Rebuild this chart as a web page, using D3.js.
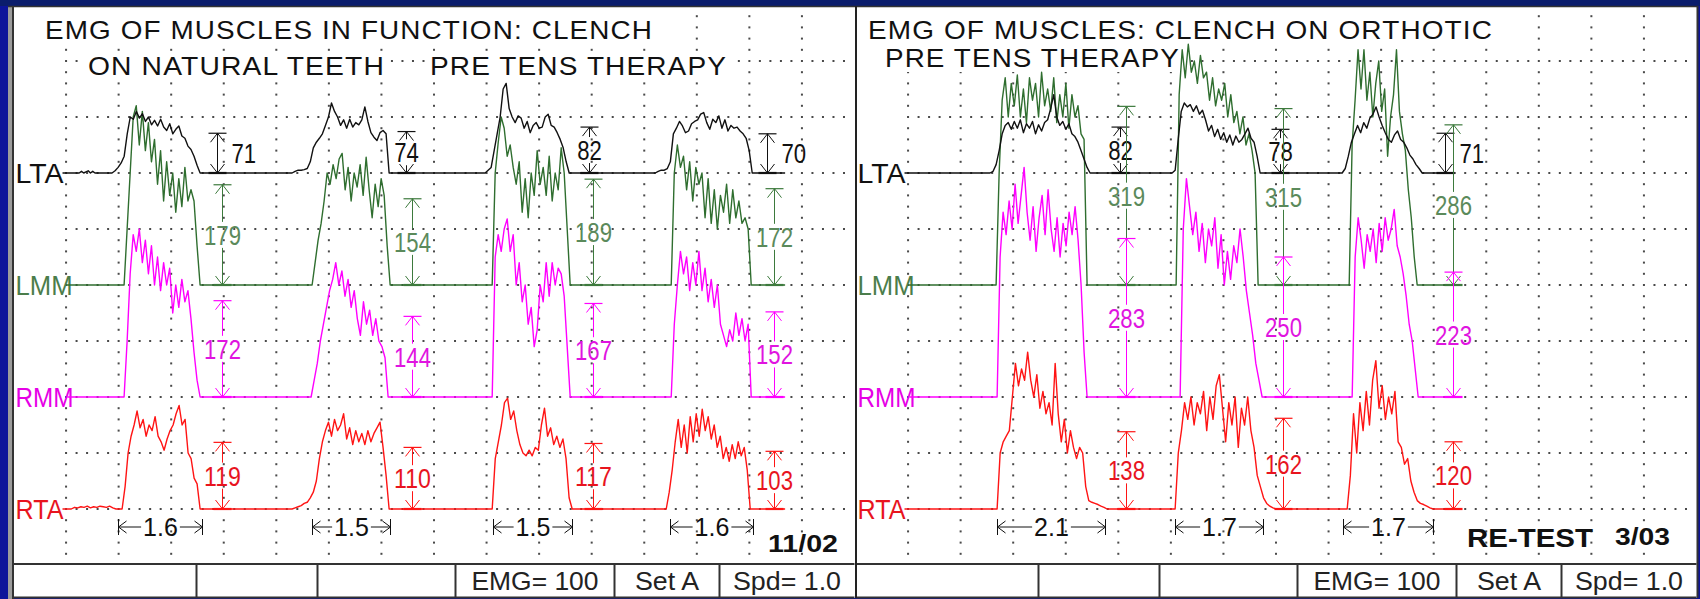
<!DOCTYPE html>
<html><head><meta charset="utf-8">
<script src="https://cdn.jsdelivr.net/npm/d3@7"></script>
<style>html,body{margin:0;padding:0;background:#0d149a;overflow:hidden}svg{display:block}</style>
</head><body>
<svg id="chart" width="1700" height="599"></svg>
<script>
// ================= DATA =================
const laneNames = ["LTA", "LMM", "RMM", "RTA"];
const leftTitle = ["EMG OF MUSCLES IN FUNCTION: CLENCH", "ON NATURAL TEETH", "PRE TENS THERAPY"];
const rightTitle = ["EMG OF MUSCLES: CLENCH ON ORTHOTIC", "PRE TENS THERAPY"];
const footerLabels = ["EMG= 100", "Set A", "Spd= 1.0"];
const leftDate = "11/02";
const rightNote = ["RE-TEST", "3/03"];

// bursts: [start (s), end (s), amplitude samples in µV, evenly spaced in time]
const leftLTA = [
  [0.25, 0.55, [0,3,0,2,4,0,3,0]],
  [0.875, 2.55, [0,4,10,18,30,70,100,96,110,98,106,92,100,86,94,84,96,82,76,88,70,78,84,66,62,48,42,30,14,0]],
  [4.30, 6.146, [0,3,5,5,6,8,20,45,55,62,70,85,100,125,110,100,85,95,80,96,82,90,86,95,118,92,72,64,58,72,76,70,0]],
  [7.973, 9.572, [0,5,10,40,70,100,150,160,115,100,90,102,98,80,92,72,85,90,80,82,100,105,85,82,72,60,45,20,0]],
  [11.208, 13.054, [0,3,5,5,8,20,70,80,92,84,72,75,88,92,95,105,108,90,78,96,90,102,80,95,75,85,80,82,75,70,62,40,0]]
];
const leftLMM = [
  [1.104, 2.55, [0,100,200,300,320,250,310,240,290,220,260,180,240,150,220,160,200,130,190,140,210,150,170,150,70,0]],
  [4.681, 6.166, [0,40,80,110,150,200,180,215,190,225,235,170,210,150,200,175,215,160,228,170,120,180,140,190,160,70,0]],
  [8.107, 9.591, [0,200,254,300,280,230,250,210,180,220,130,190,120,200,160,240,180,210,160,230,150,200,170,245,200,100,0]],
  [11.513, 13.035, [0,200,250,210,230,170,220,150,210,180,200,120,190,110,170,100,160,130,180,110,170,120,150,110,120,100,0]]
];
const leftRMM = [
  [1.104, 2.55, [0,100,220,290,260,300,240,280,220,270,200,250,190,240,200,230,150,200,160,210,170,190,140,80,30,0]],
  [4.662, 6.127, [0,30,60,100,130,160,190,210,240,200,225,180,210,160,190,140,110,170,130,155,110,140,100,90,70,0]],
  [8.107, 9.591, [0,250,290,260,300,318,260,290,200,240,170,200,130,160,90,120,200,170,240,180,240,200,230,220,180,90,0]],
  [11.513, 13.035, [0,130,200,260,220,250,190,240,200,260,190,230,170,210,160,200,130,110,90,120,100,150,110,140,100,130,0]]
];
const leftRTA = [
  [0.1, 0.95, [0,3,2,4,3,5,2,4,3,5,4,3,5,2,0]],
  [1.066, 2.55, [0,40,100,130,150,175,145,160,130,150,140,165,130,120,105,125,140,150,170,185,150,160,100,90,55,45,0]],
  [4.30, 6.146, [0,2,4,6,10,12,20,30,50,90,120,140,155,130,160,140,150,170,125,145,115,140,120,135,115,140,120,135,145,155,110,60,0]],
  [8.107, 9.629, [0,90,120,150,190,198,160,175,140,115,100,95,105,95,110,105,150,180,130,145,115,130,110,125,90,20,0]],
  [11.418, 13.016, [0,30,70,120,160,110,150,100,165,120,170,130,178,140,165,125,150,110,130,90,110,85,115,90,120,95,110,70,0]]
];
const rightLTA = [
  [1.560, 3.463, [0,3,15,40,70,85,90,78,92,80,95,72,88,80,92,70,86,75,90,95,115,140,100,85,92,78,88,70,65,55,40,25,10,0]],
  [5.024, 6.698, [0,5,60,110,125,118,122,110,120,105,112,95,75,85,65,78,60,72,55,68,50,66,55,60,70,80,62,55,30,0]],
  [8.259, 9.781, [0,8,30,55,70,85,72,90,80,98,105,118,100,85,72,60,55,68,75,60,55,45,32,25,15,8,0]]
];
const rightLMM = [
  [1.675, 3.406, [0,200,330,370,300,360,320,375,300,350,290,370,330,360,300,380,320,350,310,370,290,340,300,360,280,340,300,320,270,260,0]],
  [5.10, 6.660, [0,340,420,370,430,380,400,360,410,370,380,330,370,320,350,330,360,300,340,290,310,270,300,250,270,240,200,0]],
  [8.392, 9.686, [0,250,330,420,350,420,330,380,300,360,400,310,350,230,300,340,420,310,270,240,170,120,50,0]]
];
const rightRMM = [
  [1.694, 3.406, [0,250,330,290,350,300,380,310,360,410,330,280,340,260,320,360,290,370,300,260,320,250,310,270,330,290,340,280,200,80,0]],
  [5.176, 6.736, [0,300,390,340,290,330,260,310,240,300,270,320,230,290,200,260,210,270,240,300,250,190,150,110,60,30,0]],
  [8.449, 9.705, [0,250,320,280,230,290,260,300,240,310,260,320,280,300,335,270,250,220,180,130,100,50,0]]
];
const rightRTA = [
  [1.694, 3.787, [0,100,120,130,140,200,260,220,250,230,280,230,200,240,180,210,170,190,150,260,170,120,160,100,140,110,90,110,100,40,15,12,10,8,5,3,0]],
  [5.081, 7.003, [0,100,140,190,160,200,150,190,170,210,140,200,160,220,240,180,120,190,150,200,110,180,150,200,140,110,60,40,20,10,5,2,0]],
  [8.354, 9.990, [0,60,170,100,190,140,210,150,230,265,180,220,160,200,170,210,120,110,80,90,50,30,15,10,8,5,2,0]]
];

// measurements: [time (s), amplitude µV]
const leftMeasLTA = [[2.87, 71], [6.47, 74], [9.95, 82], [13.34, 70]];
const leftMeasLMM = [[2.97, 179], [6.58, 154], [10.03, 189], [13.47, 172]];
const leftMeasRMM = [[2.97, 172], [6.58, 144], [10.03, 167], [13.47, 152]];
const leftMeasRTA = [[2.97, 119], [6.58, 110], [10.03, 117], [13.47, 103]];
const rightMeasLTA = [[4.03, 82], [7.08, 78], [10.22, 71]];
const rightMeasLMM = [[4.15, 319], [7.14, 315], [10.37, 286]];
const rightMeasRMM = [[4.15, 283], [7.14, 250], [10.37, 223]];
const rightMeasRTA = [[4.15, 138], [7.14, 162], [10.37, 120]];

// durations: [start s, end s, label]
const leftDurations = [[0.99, 2.59, "1.6"], [4.68, 6.17, "1.5"], [8.13, 9.63, "1.5"], [11.49, 13.07, "1.6"]];
const rightDurations = [[1.69, 3.75, "2.1"], [5.08, 6.76, "1.7"], [8.28, 9.99, "1.7"]];
const leftTraceEnd = [13.68, 13.68, 13.68, 13.68];
const rightTraceEnd = [10.37, 10.54, 10.54, 10.54];

// ================= LAYOUT / STYLE =================
const W = 1700, H = 599;
const FONT = "'Liberation Sans', Arial, Helvetica, sans-serif";
const panelW = 841, colW = panelW / 16, rowH = 56, row0 = 61;
const laneRow = [2, 4, 6, 8];
const laneColor = ["#111111", "#2f6e2f", "#ff00ff", "#ff1414"];
const labelColor = ["#111111", "#4b7d4b", "#e600e6", "#e8141e"];
const measColor = ["#111111", "#5b8a5b", "#e014e0", "#e8141e"];
const laneLabelW = [48, 57, 58, 48];
const footerCells = [[442, 601], [601, 706], [706, 841]];
const footerDividers = [183, 304, 442, 601, 706];
const footerTextW = [127, 64, 108];

const svg = d3.select("#chart");

// background
svg.append("rect").attr("width", W).attr("height", H).attr("fill", "#0d149a");
svg.append("rect").attr("width", W).attr("height", 6).attr("fill", "#0b1d6c");
svg.append("rect").attr("x", 13).attr("y", 6).attr("width", 1684).attr("height", 592).attr("fill", "#ffffff");
svg.append("rect").attr("x", 8).attr("y", 6).attr("width", 4).attr("height", 593).attr("fill", "#9c9c9c");

const panels = [
  { x0: 13.5, bursts: [leftLTA, leftLMM, leftRMM, leftRTA],
    meas: [leftMeasLTA, leftMeasLMM, leftMeasRMM, leftMeasRTA],
    sideLTA: [true, false, false, true],
    dur: leftDurations, ends: leftTraceEnd,
    title: leftTitle, titleLayout: [[45, 39, 608], [88, 75, 297], [430, 75, 297]] },
  { x0: 855.5, bursts: [rightLTA, rightLMM, rightRMM, rightRTA],
    meas: [rightMeasLTA, rightMeasLMM, rightMeasRMM, rightMeasRTA],
    sideLTA: [false, false, true],
    dur: rightDurations, ends: rightTraceEnd,
    title: rightTitle, titleLayout: [[868, 39, 625], [885, 67, 295]] }
];

panels.forEach((p, pi) => {
  const g = svg.append("g");
  const xs = d3.scaleLinear().domain([-1, 15]).range([p.x0, p.x0 + panelW]);
  const xMax = p.x0 + panelW - 5;

  // grid dots
  const dots = [];
  for (let j = 0; j <= 8; j++) {
    const y = row0 + j * rowH;
    for (let n = 0; ; n++) {
      const x = xs(0) + n * colW / 5;
      if (x > xMax) break;
      dots.push([x, y]);
    }
  }
  for (let k = 0; k <= 14; k++) {
    const x = xs(k);
    if (x > xMax) break;
    for (let m = -4; m <= 44; m++) {
      const y = row0 + m * rowH / 5;
      if (m % 5 === 0 && m >= 0 && m <= 40) continue;
      dots.push([x, y]);
    }
  }
  g.append("g").selectAll("rect").data(dots).join("rect")
    .attr("x", d => d[0] - 1).attr("y", d => d[1] - 1)
    .attr("width", 2).attr("height", 2).attr("fill", "#4a4a4a");

  // titles with white knock-out
  const tg = g.append("g");
  p.title.forEach((t, i) => {
    const [x, y, w] = p.titleLayout[i];
    const txt = tg.append("text").attr("x", x).attr("y", y)
      .attr("font-family", FONT).attr("font-size", 25).attr("fill", "#111")
      .attr("letter-spacing", 1)
      .attr("textLength", w).attr("lengthAdjust", "spacingAndGlyphs").text(t);
    const bb = txt.node().getBBox();
    tg.insert("rect", "text").attr("x", bb.x - 3).attr("y", bb.y - 1)
      .attr("width", bb.width + 6).attr("height", bb.height + 1).attr("fill", "#fff");
  });

  // lane labels
  const labelRight = [];
  laneNames.forEach((name, li) => {
    const base = row0 + laneRow[li] * rowH;
    g.append("text").attr("x", p.x0 + 2).attr("y", base + 10)
      .attr("font-family", FONT).attr("font-size", 28).attr("fill", labelColor[li])
      .attr("textLength", laneLabelW[li]).attr("lengthAdjust", "spacingAndGlyphs").text(name);
    labelRight.push(p.x0 + 2 + laneLabelW[li] - (li === 1 || li === 2 ? 6 : 1));
  });

  // traces (draw RTA first, LTA last)
  [3, 2, 1, 0].forEach(li => {
    const base = row0 + laneRow[li] * rowH;
    const ys = d3.scaleLinear().domain([0, 100]).range([base, base - rowH]);
    const pts = [[xs.invert(labelRight[li]), 0]];
    p.bursts[li].forEach(([t0, t1, vals]) => {
      const step = (t1 - t0) / (vals.length - 1);
      vals.forEach((v, i) => pts.push([t0 + i * step, v]));
    });
    pts.push([p.ends[li], 0]);
    g.append("path").attr("d", d3.line().x(d => xs(d[0])).y(d => ys(d[1]))(pts))
      .attr("fill", "none").attr("stroke", laneColor[li]).attr("stroke-width", 1.4)
      .attr("stroke-linejoin", "round");
  });

  // measurement brackets
  const mg = g.append("g");
  laneNames.forEach((name, li) => {
    const base = row0 + laneRow[li] * rowH;
    const ys = d3.scaleLinear().domain([0, 100]).range([base, base - rowH]);
    p.meas[li].forEach(([t, v], mi) => {
      const x = Math.round(xs(t)) + 0.5, yT = ys(v), yB = base;
      const col = li === 1 ? "#3d7a3d" : laneColor[li];
      const side = li === 0 && p.sideLTA[mi];
      const mid = (yT + yB) / 2;
      const line = (x1, y1, x2, y2, w) => mg.append("line").attr("x1", x1).attr("y1", y1)
        .attr("x2", x2).attr("y2", y2).attr("stroke", col).attr("stroke-width", w || 1);
      if (side) line(x, yT, x, yB);
      else { line(x, yT, x, mid - 13); line(x, mid + 13, x, yB); }
      line(x - 9, yT, x + 9, yT, 1.2);
      mg.append("path").attr("d", `M${x - 7},${yT + 9}L${x},${yT}L${x + 7},${yT + 9}`)
        .attr("fill", "none").attr("stroke", col);
      mg.append("path").attr("d", `M${x - 7},${yB - 9}L${x},${yB}L${x + 7},${yB - 9}`)
        .attr("fill", "none").attr("stroke", col);
      line(x - 9, yB, x + 9, yB, 2.2);
      const s = String(v);
      mg.append("text").attr("x", side ? x + 14 : x).attr("y", mid + 10)
        .attr("text-anchor", side ? "start" : "middle")
        .attr("font-family", FONT).attr("font-size", 28).attr("fill", measColor[li])
        .attr("textLength", s.length * 12.3).attr("lengthAdjust", "spacingAndGlyphs").text(s);
    });
  });

  // durations
  const dg = g.append("g").attr("stroke", "#111").attr("fill", "none");
  const yD = 527;
  p.dur.forEach(([t0, t1, lab]) => {
    const xa = Math.round(xs(t0)) + 0.5, xb = Math.round(xs(t1)) + 0.5;
    const txt = g.append("text").attr("x", (xa + xb) / 2).attr("y", yD + 9)
      .attr("text-anchor", "middle").attr("font-family", FONT).attr("font-size", 25)
      .attr("fill", "#111").text(lab);
    const tw = txt.node().getComputedTextLength();
    const c = (xa + xb) / 2;
    dg.append("path").attr("d",
      `M${xa},${yD - 8}V${yD + 8}M${xa + 8},${yD - 6}L${xa},${yD}L${xa + 8},${yD + 6}M${xa},${yD}H${c - tw / 2 - 2}` +
      `M${xb},${yD - 8}V${yD + 8}M${xb - 8},${yD - 6}L${xb},${yD}L${xb - 8},${yD + 6}M${xb},${yD}H${c + tw / 2 + 2}`);
  });

  // footer
  const fg = g.append("g");
  fg.append("line").attr("x1", p.x0).attr("x2", p.x0 + panelW).attr("y1", 564).attr("y2", 564)
    .attr("stroke", "#333").attr("stroke-width", 2);
  fg.append("line").attr("x1", p.x0).attr("x2", p.x0 + panelW).attr("y1", 597.5).attr("y2", 597.5)
    .attr("stroke", "#333").attr("stroke-width", 2);
  footerDividers.forEach(d => fg.append("line").attr("x1", p.x0 + d).attr("x2", p.x0 + d)
    .attr("y1", 564).attr("y2", 598).attr("stroke", "#333").attr("stroke-width", 2));
  footerLabels.forEach((lab, i) => {
    const [a, b] = footerCells[i];
    fg.append("text").attr("x", p.x0 + (a + b) / 2).attr("y", 590).attr("text-anchor", "middle")
      .attr("font-family", FONT).attr("font-size", 25).attr("fill", "#222")
      .attr("textLength", footerTextW[i]).attr("lengthAdjust", "spacingAndGlyphs").text(lab);
  });
});

// panel frame lines
svg.append("line").attr("x1", 8).attr("x2", 1698).attr("y1", 6.5).attr("y2", 6.5).attr("stroke", "#333").attr("stroke-width", 1.5);
svg.append("line").attr("x1", 13).attr("x2", 13).attr("y1", 6).attr("y2", 599).attr("stroke", "#333").attr("stroke-width", 2);
svg.append("line").attr("x1", 856).attr("x2", 856).attr("y1", 6).attr("y2", 598).attr("stroke", "#222").attr("stroke-width", 2);
svg.append("line").attr("x1", 1697.5).attr("x2", 1697.5).attr("y1", 6).attr("y2", 598).attr("stroke", "#333").attr("stroke-width", 2);

// dates / notes
svg.append("text").attr("x", 768).attr("y", 552).attr("font-family", FONT).attr("font-weight", "bold")
  .attr("font-size", 24).attr("fill", "#111").attr("textLength", 70).attr("lengthAdjust", "spacingAndGlyphs").text(leftDate);
svg.append("text").attr("x", 1467).attr("y", 547).attr("font-family", FONT).attr("font-weight", "bold")
  .attr("font-size", 25).attr("fill", "#111").attr("textLength", 126).attr("lengthAdjust", "spacingAndGlyphs").text(rightNote[0]);
svg.append("text").attr("x", 1615).attr("y", 545).attr("font-family", FONT).attr("font-weight", "bold")
  .attr("font-size", 23).attr("fill", "#111").attr("textLength", 55).attr("lengthAdjust", "spacingAndGlyphs").text(rightNote[1]);
</script>
</body></html>
